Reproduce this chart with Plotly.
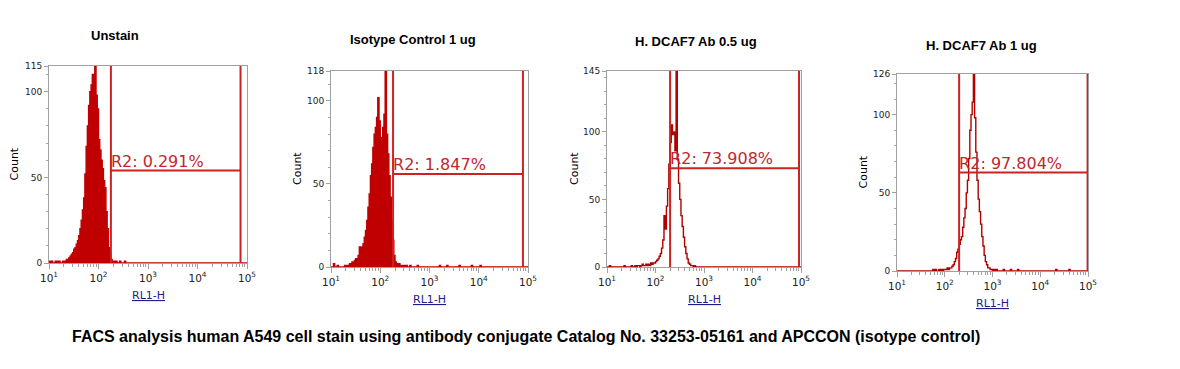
import numpy as np
import plotly.graph_objects as go

# ---------------- data ----------------
titles = ["Unstain", "Isotype Control 1 ug", "H. DCAF7 Ab 0.5 ug", "H. DCAF7 Ab 1 ug"]
y_max = [115, 118, 145, 126]
gate_left = [178, 182, 200, 200]
gate_right = [74000, 79000, 91000, 98000]
gate_level = [54, 56, 73, 63]
gate_pct = ["0.291%", "1.847%", "73.908%", "97.804%"]
caption = "FACS analysis human A549 cell stain using antibody conjugate Catalog No. 33253-05161 and APCCON (isotype control)"

bin_step = 0.025  # bin width in decades of RL1-H

unstain_start = 1.100
unstain_counts = [0, 1, 1, 0, 1, 0, 0, 1, 0, 1, 2, 2, 3, 4, 5, 6, 8, 9, 11, 13,
                  16, 20, 25, 31, 38, 52, 68, 80, 92, 100, 104, 110, 108, 115, 98, 90, 72, 66, 60, 55,
                  48, 44, 30, 20, 9, 5, 2, 1, 1, 0, 1, 0, 0, 1, 0]
unstain_sparse = [1.02, 1.06, 2.53]

iso_start = 1.000
iso_counts = [0, 0, 2, 0, 0, 1, 0, 0, 0, 0, 0, 1, 0, 1, 1, 2, 1, 3, 2, 4,
              5, 4, 7, 12, 8, 12, 14, 18, 22, 28, 36, 44, 55, 62, 72, 80, 84, 90, 102, 88,
              78, 74, 84, 92, 118, 80, 68, 55, 42, 28, 16, 7, 3, 2, 1, 2, 1, 0, 1, 1, 0, 1]
iso_sparse = [2.62, 2.75, 3.22, 3.35, 3.62, 3.86, 4.05]

ab05_start = 1.500
ab05_counts = [1, 0, 0, 1, 0, 1, 1, 0, 1, 2, 1, 1, 2, 1, 2, 1, 3, 2, 3, 3,
               4, 5, 6, 8, 10, 14, 20, 38, 28, 45, 58, 76, 92, 105, 98, 100, 86, 145, 80, 62,
               50, 38, 30, 22, 15, 10, 6, 3, 2, 1, 1, 0, 1]
ab05_sparse = [1.05, 1.35]

ab1_start = 1.900
ab1_counts = [0, 1, 0, 1, 1, 1, 2, 1, 2, 2, 3, 4, 6, 8, 12, 14, 17, 20, 22, 28,
              34, 40, 50, 58, 72, 90, 100, 108, 126, 98, 76, 58, 46, 38, 30, 22, 16, 10, 6, 4,
              2, 2, 1, 1, 0, 1]
ab1_sparse = [1.76, 1.82, 1.88, 3.09, 3.23, 3.40, 3.54, 4.34, 4.62]

panels = [
    (unstain_start, unstain_counts, unstain_sparse),
    (iso_start, iso_counts, iso_sparse),
    (ab05_start, ab05_counts, ab05_sparse),
    (ab1_start, ab1_counts, ab1_sparse),
]

# ---------------- layout geometry (pixels in the screenshot) ----------------
W, H = 1180, 369
PAGE_OFFSET = 8  # default body margin of the html page
boxes = [  # left, right, top, bottom
    (49, 247, 66, 263),
    (331, 528, 71, 267),
    (607, 801, 71, 267),
    (897, 1088, 74, 271),
]
title_pos = [(115, 36), (413, 39), (696, 41), (981, 45)]
count_x = [14, 297, 574, 863]

HIST_FILL = ["#c00000", "#c00000", None, None]
HIST_LINE = ["#c00000", "#c00000", "#b00000", "#b00000"]
GATE_COLOR = "#cc2222"
AXIS_GRAY = "#a0a0a0"

def px_x(p):
    return (p - PAGE_OFFSET) / W

def px_y(p):
    return 1 - (p - PAGE_OFFSET) / H

fig = go.Figure()

n_bins = int(round(4 / bin_step))
edges = 1 + np.arange(n_bins + 1) * bin_step

for i, (start, counts, sparse) in enumerate(panels):
    full = np.zeros(n_bins)
    i0 = int(round((start - 1) / bin_step))
    full[i0:i0 + len(counts)] = counts
    for s in sparse:
        full[int((s - 1) / bin_step)] += 1
    xs = list(10 ** edges[:-1]) + [10 ** edges[-1]]
    ys = list(full) + [0]
    ax = "" if i == 0 else str(i + 1)
    tr = dict(x=xs, y=ys, mode="lines", line=dict(shape="hv", color=HIST_LINE[i], width=1.4),
              xaxis="x" + ax, yaxis="y" + ax, showlegend=False, hoverinfo="skip")
    if HIST_FILL[i]:
        tr.update(fill="tozeroy", fillcolor=HIST_FILL[i])
    fig.add_trace(go.Scatter(**tr))

    gl, gr, lv, ym = gate_left[i], gate_right[i], gate_level[i], y_max[i]
    fig.add_trace(go.Scatter(
        x=[gl, gl, None, gr, gr, None, gl, gr],
        y=[0, ym, None, 0, ym, None, lv, lv],
        mode="lines", line=dict(color=GATE_COLOR, width=2),
        xaxis="x" + ax, yaxis="y" + ax, showlegend=False, hoverinfo="skip"))
    fig.add_trace(go.Scatter(
        x=[gl], y=[lv], mode="text", text=["R2: " + gate_pct[i]],
        textposition="top right",
        textfont=dict(family="DejaVu Sans", size=16, color="#c0282d"),
        xaxis="x" + ax, yaxis="y" + ax, showlegend=False, hoverinfo="skip"))

    l, r, t, b = boxes[i]
    minor_x = [k * 10 ** d for d in range(1, 5) for k in range(2, 10)]
    xaxis = dict(
        type="log", range=[1, 5], domain=[px_x(l), px_x(r)],
        anchor="y" + ax, showgrid=False, zeroline=False,
        showline=True, linecolor=AXIS_GRAY, linewidth=1, mirror=True,
        tickvals=[10, 100, 1000, 10000, 100000],
        ticktext=["10<sup>1</sup>", "10<sup>2</sup>", "10<sup>3</sup>", "10<sup>4</sup>", "10<sup>5</sup>"],
        ticks="outside", ticklen=5, tickcolor=AXIS_GRAY,
        minor=dict(tickvals=minor_x, ticks="outside", ticklen=3, tickcolor=AXIS_GRAY),
        tickfont=dict(family="DejaVu Sans", size=10.5, color="#222"),
        automargin=False, fixedrange=True,
    )
    yaxis = dict(
        range=[0, ym], domain=[px_y(b), px_y(t)],
        anchor="x" + ax, showgrid=False, zeroline=False,
        showline=True, linecolor=AXIS_GRAY, linewidth=1, mirror=True,
        tickvals=[0, 50, 100, ym], ticktext=["0", "50", "100", str(ym)],
        ticks="outside", ticklen=4, tickcolor=AXIS_GRAY,
        minor=dict(dtick=10, tick0=0, ticks="outside", ticklen=2, tickcolor=AXIS_GRAY),
        tickfont=dict(family="DejaVu Sans", size=9, color="#222"),
        automargin=False, fixedrange=True,
    )
    fig.layout["xaxis" + ax] = xaxis
    fig.layout["yaxis" + ax] = yaxis

    tx, ty = title_pos[i]
    fig.add_annotation(text="<b>" + titles[i] + "</b>", x=px_x(tx), y=px_y(ty),
                       xref="paper", yref="paper", showarrow=False,
                       xanchor="center", yanchor="middle",
                       font=dict(family="Liberation Sans", size=13, color="#000"))
    fig.add_annotation(text="Count", x=px_x(count_x[i]), y=px_y((t + b) / 2),
                       xref="paper", yref="paper", showarrow=False, textangle=-90,
                       xanchor="center", yanchor="middle",
                       font=dict(family="DejaVu Sans", size=11, color="#000"))
    fig.add_annotation(text="<span style='text-decoration:underline'>RL1-H</span>",
                       x=px_x((l + r) / 2), y=px_y(b + 32),
                       xref="paper", yref="paper", showarrow=False,
                       xanchor="center", yanchor="middle",
                       font=dict(family="DejaVu Sans", size=11, color="#1c1c8c"))

fig.add_annotation(text="<b>" + caption + "</b>", x=px_x(526), y=px_y(336),
                   xref="paper", yref="paper", showarrow=False,
                   xanchor="center", yanchor="middle",
                   font=dict(family="Liberation Sans", size=16, color="#000"))

fig.update_layout(width=W, height=H, margin=dict(l=0, r=0, t=0, b=0, autoexpand=False),
                  paper_bgcolor="white", plot_bgcolor="white")

fig.write_html("out.html")
